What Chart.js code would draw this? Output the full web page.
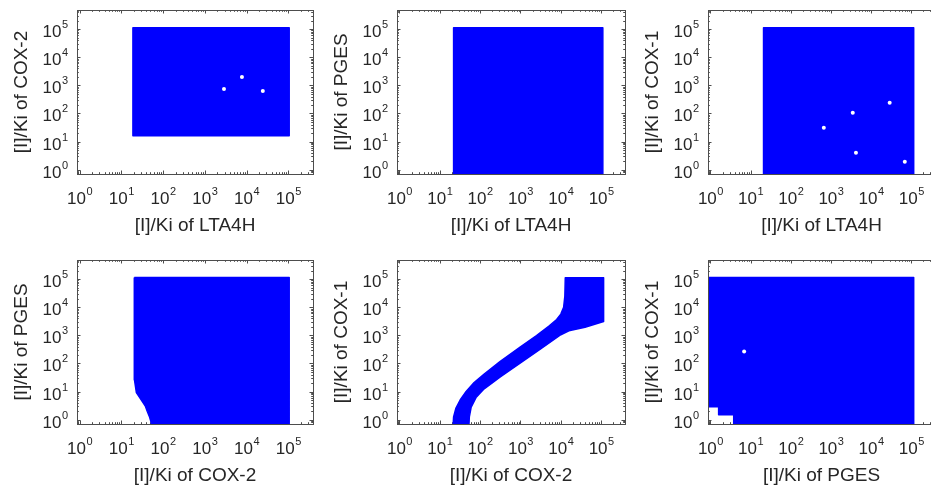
<!DOCTYPE html>
<html>
<head>
<meta charset="utf-8">
<script src="https://cdn.jsdelivr.net/npm/chart.js@4.4.0/dist/chart.umd.min.js"></script>
<style>
  html, body { margin: 0; padding: 0; background: #fff; width: 931px; height: 485px; overflow: hidden; position: relative; }
  canvas { position: absolute; left: 0; top: 0; }
</style>
</head>
<body>
<canvas id="c1" width="940" height="485"></canvas>
<canvas id="c2" width="940" height="485"></canvas>
<canvas id="c3" width="940" height="485"></canvas>
<canvas id="c4" width="940" height="485"></canvas>
<canvas id="c5" width="940" height="485"></canvas>
<canvas id="c6" width="940" height="485"></canvas>
<script>
// axis ranges (same on every panel) and tick exponents
const X_MIN = 0.87, X_MAX = 3.9e5;
const Y_MIN = 0.72, Y_MAX = 4.8e5;
const tickExps = ["0", "1", "2", "3", "4", "5"];

const xTitles = ["[I]/Ki of LTA4H", "[I]/Ki of LTA4H", "[I]/Ki of LTA4H",
                 "[I]/Ki of COX-2", "[I]/Ki of COX-2", "[I]/Ki of PGES"];
const yTitles = ["[I]/Ki of COX-2", "[I]/Ki of PGES", "[I]/Ki of COX-1",
                 "[I]/Ki of PGES", "[I]/Ki of COX-1", "[I]/Ki of COX-1"];

// outline of the point cloud in each panel
const cloud1X = [19, 1.05e5, 1.05e5, 19, 19];
const cloud1Y = [16, 16, 1.12e5, 1.12e5, 16];

const cloud2X = [22, 1.1e5, 1.1e5, 22, 22];
const cloud2Y = [0.4, 0.4, 1.12e5, 1.12e5, 0.4];

const cloud3X = [21, 1.15e5, 1.15e5, 21, 21];
const cloud3Y = [0.4, 0.4, 1.12e5, 1.12e5, 0.4];

const cloud4X = [20.5, 1.05e5, 1.05e5, 52, 52, 47, 42, 38, 30, 23, 20.7, 20.5];
const cloud4Y = [1.15e5, 1.15e5, 0.4, 0.4, 0.79, 1.31, 1.97, 2.96, 5.1, 9.1, 26, 1.15e5];

const cloud5X = [21, 22, 25, 32, 45, 71, 126, 316, 1000, 2500, 5000, 7900, 10000, 11750, 12600, 12900,
                 1.15e5, 1.15e5, 39800, 15850, 10000, 3160, 1000, 316, 126, 79, 60, 54, 52, 21];
const cloud5Y = [0.4, 1.26, 2.5, 5, 10, 21, 42, 118, 390, 980, 2100, 3650, 5700, 10000, 25000, 1.12e5,
                 1.12e5, 3090, 1950, 1450, 1050, 330, 104, 33, 12.5, 6.1, 2.8, 1.26, 0.4, 0.4];

const cloud6X = [0.5, 1.15e5, 1.15e5, 3.8, 3.8, 1.6, 1.6, 0.5, 0.5];
const cloud6Y = [1.15e5, 1.15e5, 0.4, 0.4, 1.5, 1.5, 2.9, 2.9, 1.15e5];

// small empty spots inside the clouds
const gaps1X = [2880, 24500, 7750];
const gaps1Y = [740, 630, 2000];
const gaps3X = [3500, 665, 4200, 29000, 69000];
const gaps3Y = [105, 31, 4, 240, 1.9];
const gaps6X = [6.9];
const gaps6Y = [265];

const BLUE = "#0000ff";
const TEXT = "#262626";
const AXIS = "#4d4d4d";
const W = 940, H = 485;

// MATLAB-like frame: box, inward ticks on all sides, 10^n labels, titles
const frame = {
  id: "frame",
  beforeDatasetsDraw(chart) {
    const { ctx, chartArea: a, scales: { x, y } } = chart;
    ctx.save();
    ctx.strokeStyle = AXIS;
    ctx.lineWidth = 1;
    ctx.beginPath();
    for (let e = -1; e <= 6; e++) {
      for (let m = 1; m <= 9; m++) {
        const v = m * Math.pow(10, e);
        const len = m === 1 ? 3.5 : 1.8;
        if (v >= X_MIN && v <= X_MAX) {
          const px = Math.round(x.getPixelForValue(v)) + 0.5;
          ctx.moveTo(px, a.bottom); ctx.lineTo(px, a.bottom - len);
          ctx.moveTo(px, a.top); ctx.lineTo(px, a.top + len);
        }
        if (v >= Y_MIN && v <= Y_MAX) {
          const py = Math.round(y.getPixelForValue(v)) + 0.5;
          ctx.moveTo(a.left, py); ctx.lineTo(a.left + len, py);
          ctx.moveTo(a.right, py); ctx.lineTo(a.right - len, py);
        }
      }
    }
    ctx.stroke();
    ctx.restore();
  },
  afterDraw(chart, args, opts) {
    const { ctx, chartArea: a, scales: { x, y } } = chart;
    ctx.save();
    ctx.strokeStyle = AXIS;
    ctx.lineWidth = 1;
    ctx.strokeRect(Math.round(a.left) + 0.5, Math.round(a.top) + 0.5,
                   Math.round(a.right - a.left), Math.round(a.bottom - a.top));

    ctx.fillStyle = TEXT;
    ctx.textBaseline = "alphabetic";
    const big = "17px 'Liberation Sans', Arial, sans-serif";
    const small = "11px 'Liberation Sans', Arial, sans-serif";
    tickExps.forEach(ex => {
      const v = Math.pow(10, Number(ex));
      ctx.font = big; const w1 = ctx.measureText("10").width;
      ctx.font = small; const w2 = ctx.measureText(ex).width;
      // x axis label, centred under the tick
      const px = x.getPixelForValue(v);
      const x0 = px - (w1 + w2) / 2;
      const base = a.bottom + 30;
      ctx.textAlign = "left";
      ctx.font = big; ctx.fillText("10", x0, base);
      ctx.font = small; ctx.fillText(ex, x0 + w1 + 0.5, base - 9);
      // y axis label, right aligned left of the box
      const py = y.getPixelForValue(v);
      const right = a.left - 9;
      const yb = py + 8;
      ctx.font = big; ctx.fillText("10", right - w2 - w1 - 0.5, yb);
      ctx.font = small; ctx.fillText(ex, right - w2, yb - 9);
    });

    ctx.font = "19px 'Liberation Sans', Arial, sans-serif";
    ctx.textAlign = "center";
    ctx.fillText(opts.xTitle, (a.left + a.right) / 2, a.bottom + 57);
    ctx.translate(a.left - 50, (a.top + a.bottom) / 2);
    ctx.rotate(-Math.PI / 2);
    ctx.fillText(opts.yTitle, 0, 0);
    ctx.restore();
  }
};

const panels = [
  { id: "c1", box: [77, 10, 313, 174], xs: cloud1X, ys: cloud1Y, gx: gaps1X, gy: gaps1Y },
  { id: "c2", box: [397, 10, 625, 174], xs: cloud2X, ys: cloud2Y, gx: [], gy: [] },
  { id: "c3", box: [708, 10, 935, 174], xs: cloud3X, ys: cloud3Y, gx: gaps3X, gy: gaps3Y },
  { id: "c4", box: [77, 260, 313, 424], xs: cloud4X, ys: cloud4Y, gx: [], gy: [] },
  { id: "c5", box: [397, 260, 625, 424], xs: cloud5X, ys: cloud5Y, gx: [], gy: [] },
  { id: "c6", box: [708, 260, 935, 424], xs: cloud6X, ys: cloud6Y, gx: gaps6X, gy: gaps6Y }
];

panels.forEach((p, i) => {
  const [l, t, r, b] = p.box;
  new Chart(document.getElementById(p.id), {
    type: "scatter",
    data: {
      datasets: [{
        data: p.xs.map((v, k) => ({ x: v, y: p.ys[k] })),
        showLine: true,
        fill: "shape",
        backgroundColor: BLUE,
        borderColor: BLUE,
        borderWidth: 1.5,
        borderJoinStyle: "round",
        pointRadius: 0,
        tension: 0,
        order: 2
      }, {
        data: p.gx.map((v, k) => ({ x: v, y: p.gy[k] })),
        backgroundColor: "#ffffff",
        borderColor: "#ffffff",
        borderWidth: 0,
        pointRadius: 2,
        order: 1
      }]
    },
    options: {
      responsive: false,
      animation: false,
      layout: { padding: { left: l, top: t, right: W - r, bottom: H - b } },
      scales: {
        x: { type: "logarithmic", min: X_MIN, max: X_MAX, display: false },
        y: { type: "logarithmic", min: Y_MIN, max: Y_MAX, display: false }
      },
      plugins: {
        legend: { display: false },
        tooltip: { enabled: false },
        frame: { xTitle: xTitles[i], yTitle: yTitles[i] }
      }
    },
    plugins: [frame]
  });
});
</script>
</body>
</html>
